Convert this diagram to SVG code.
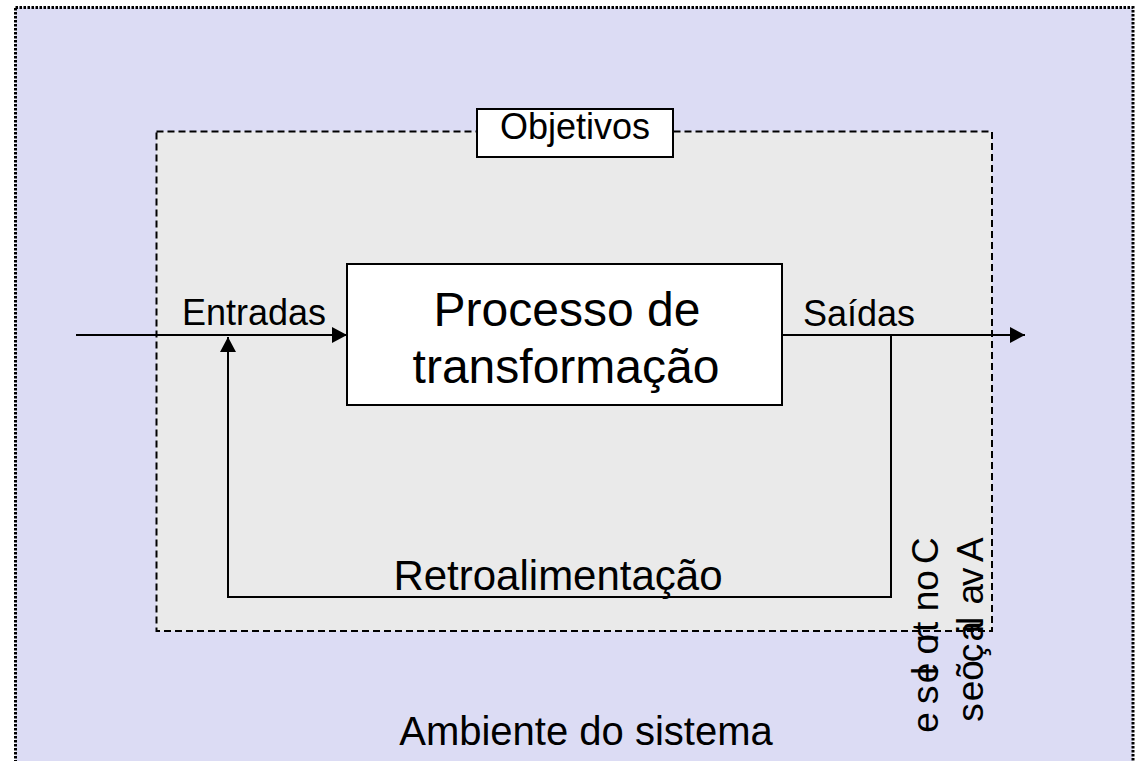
<svg xmlns="http://www.w3.org/2000/svg" width="1137" height="761" viewBox="0 0 1137 761">
<defs>
<style>
.t{font-family:"Liberation Sans",Arial,sans-serif;fill:#000}
.ln{fill:none;stroke:#000;stroke-width:2}
</style>
<marker id="ah" viewBox="0 0 15 16" refX="15" refY="8" markerWidth="15" markerHeight="16" markerUnits="userSpaceOnUse" orient="auto">
<path d="M0,0 L15,8 L0,16 Z" fill="#000"/>
</marker>
</defs>
<rect width="1137" height="761" fill="#fff"/>
<g id="ambiente">
<rect x="15.5" y="7.5" width="1117.5" height="780" fill="#dcdcf4" stroke="#000" stroke-width="3" stroke-dasharray="2.5 1.5"/>
<text class="t" x="586" y="745" font-size="40" text-anchor="middle">Ambiente do sistema</text>
</g>
<g id="sistema">
<rect x="156.5" y="131.5" width="835.5" height="499.5" fill="#eaeaea" stroke="#000" stroke-width="2" stroke-dasharray="7 4"/>
</g>
<g id="objetivos">
<rect x="477" y="109" width="196" height="48" fill="#fff" stroke="#000" stroke-width="2"/>
<text class="t" x="575" y="139" font-size="36" text-anchor="middle">Objetivos</text>
</g>
<g id="processo">
<rect x="347" y="264" width="435" height="141" fill="#fff" stroke="#000" stroke-width="2"/>
<text class="t" x="567" y="326" font-size="48" text-anchor="middle">Processo de</text>
<text class="t" x="566" y="383" font-size="48" text-anchor="middle">transformação</text>
</g>
<g id="connectors">
<line class="ln" x1="76" y1="335" x2="347" y2="335" marker-end="url(#ah)"/>
<line class="ln" x1="782" y1="335" x2="1025" y2="335" marker-end="url(#ah)"/>
<polyline class="ln" points="891,335 891,597 228,597 228,337" marker-end="url(#ah)"/>
</g>
<g id="labels">
<text class="t" x="254" y="325" font-size="36" text-anchor="middle">Entradas</text>
<text class="t" x="859" y="326" font-size="36" text-anchor="middle">Saídas</text>
<text class="t" x="558" y="590" font-size="42" text-anchor="middle">Retroalimentação</text>
</g>
<g id="controles">
<text class="t" font-size="37" transform="translate(938,564) rotate(90)" rotate="180">Controles e</text>
<text class="t" font-size="37" transform="translate(983,562) rotate(90)" rotate="180">Avaliações</text>
</g>
</svg>
